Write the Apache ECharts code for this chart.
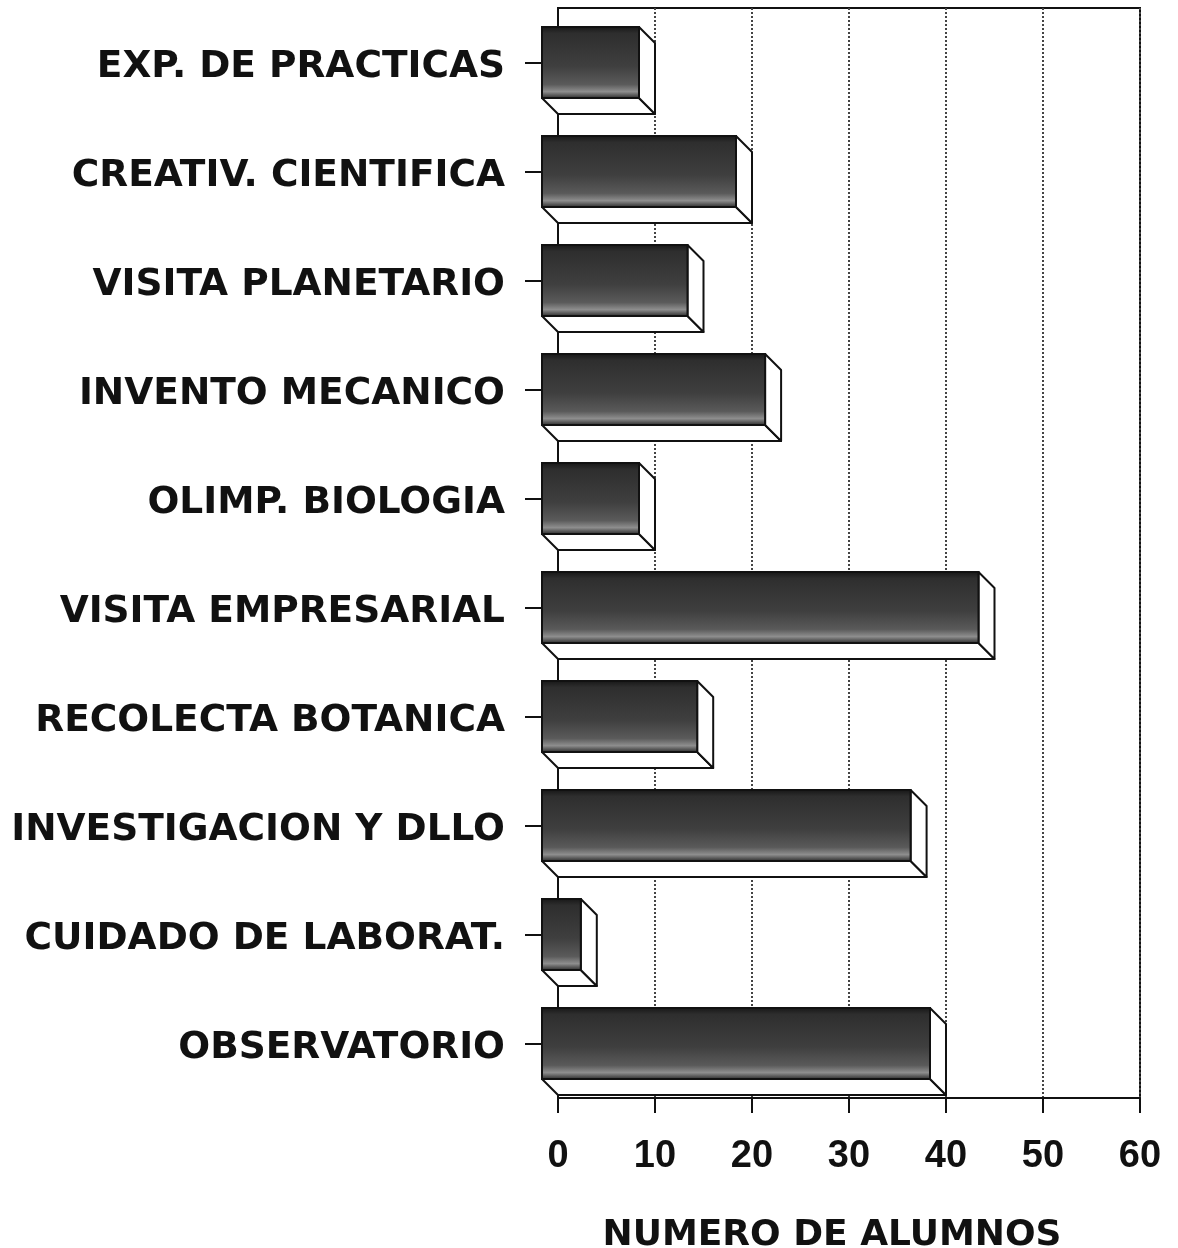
<!DOCTYPE html>
<html>
<head>
<meta charset="utf-8">
<script src="https://cdn.jsdelivr.net/npm/echarts@6/dist/echarts.min.js"></script>
<style>
  html, body { margin: 0; padding: 0; background: #fff; }
  #chart { width: 1178px; height: 1248px; }
</style>
</head>
<body>
<div id="chart"></div>
<script>
var categories = ['EXP. DE PRACTICAS', 'CREATIV. CIENTIFICA', 'VISITA PLANETARIO', 'INVENTO MECANICO',
  'OLIMP. BIOLOGIA', 'VISITA EMPRESARIAL', 'RECOLECTA BOTANICA', 'INVESTIGACION Y DLLO',
  'CUIDADO DE LABORAT.', 'OBSERVATORIO'];
var alumnos = [10, 20, 15, 23, 10, 45, 16, 38, 4, 40];
var xTicks = [0, 10, 20, 30, 40, 50, 60];

var chart = echarts.init(document.getElementById('chart'));

var depth = 16;

function renderBar(params, api) {
  var v = api.value(0), idx = api.value(1);
  var c0 = api.coord([0, idx]);
  var c1 = api.coord([v, idx]);
  var h = api.size([0, 1])[1] * 0.65;
  var x1 = c0[0] - depth, x2 = c1[0] - depth;
  var y1 = c0[1] - h / 2, y2 = c0[1] + h / 2;
  var edge = { fill: '#fff', stroke: '#111', lineWidth: 2, lineJoin: 'round' };
  return {
    type: 'group',
    children: [
      { type: 'polygon', shape: { points: [[x1, y2], [x2, y2], [x2 + depth, y2 + depth], [x1 + depth, y2 + depth]] }, style: edge },
      { type: 'polygon', shape: { points: [[x2, y1], [x2 + depth, y1 + depth], [x2 + depth, y2 + depth], [x2, y2]] }, style: edge },
      {
        type: 'rect',
        shape: { x: x1, y: y1, width: x2 - x1, height: h },
        style: {
          fill: new echarts.graphic.LinearGradient(0, 0, 0, 1, [
            { offset: 0, color: '#151515' },
            { offset: 0.1, color: '#2e2e2e' },
            { offset: 0.55, color: '#3f3f3f' },
            { offset: 0.8, color: '#5a5a5a' },
            { offset: 0.9, color: '#8e8e8e' },
            { offset: 1, color: '#222' }
          ]),
          stroke: '#111',
          lineWidth: 2
        }
      }
    ]
  };
}

chart.setOption({
  animation: false,
  backgroundColor: '#fff',
  grid: { left: 558, right: 38, top: 8, bottom: 150, show: true, borderColor: '#111', borderWidth: 2, containLabel: false, outerBoundsMode: 'none' },
  xAxis: {
    type: 'value',
    min: xTicks[0],
    max: xTicks[xTicks.length - 1],
    interval: 10,
    name: 'NUMERO DE ALUMNOS',
    nameLocation: 'middle',
    nameGap: 120,
    nameTextStyle: { fontFamily: 'DejaVu Sans', fontWeight: 'bold', fontSize: 36, color: '#111', padding: [0, 34, 0, 0] },
    axisLine: { show: true, lineStyle: { color: '#111', width: 2 } },
    axisTick: { show: true, length: 15, lineStyle: { color: '#111', width: 2 } },
    axisLabel: { margin: 40, fontFamily: 'Arial, Liberation Sans', fontWeight: 'bold', fontSize: 38, color: '#111' },
    splitLine: { show: true, lineStyle: { type: 'dotted', color: '#444', width: 2 } }
  },
  yAxis: {
    type: 'category',
    inverse: true,
    data: categories,
    axisLine: { show: true, lineStyle: { color: '#111', width: 2 } },
    axisTick: { show: true, alignWithLabel: true, length: 33, lineStyle: { color: '#111', width: 2 } },
    axisLabel: { margin: 53, verticalAlign: 'top', lineHeight: 10, fontFamily: 'DejaVu Sans', fontWeight: 'bold', fontSize: 37.5, color: '#111' },
    splitLine: { show: false }
  },
  series: [{
    type: 'custom',
    renderItem: renderBar,
    encode: { x: 0, y: 1 },
    data: alumnos.map(function (v, i) { return [v, i]; }),
    z: 5
  }]
});
</script>
</body>
</html>
